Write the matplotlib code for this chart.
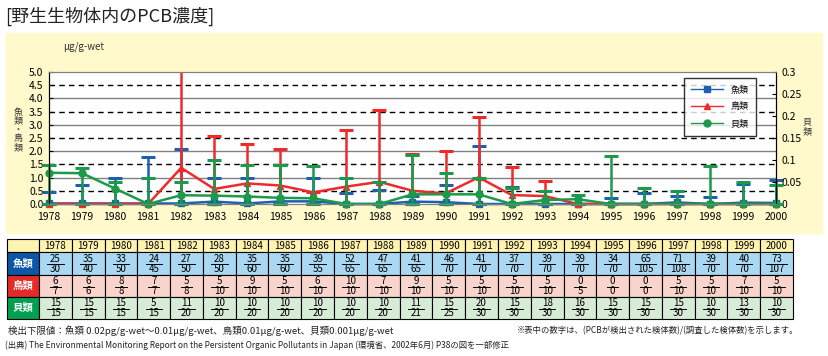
import numpy as np
import matplotlib
matplotlib.use('Agg')
import matplotlib.pyplot as plt
from matplotlib.patches import Rectangle
from matplotlib.lines import Line2D

plt.rcParams['font.family'] = ['Noto Sans CJK JP', 'DejaVu Sans']

# Data
years = list(range(1978, 2001))

# 魚類 / 鳥類 : left axis (μg/g-wet), mean and max
fish_mean = [0.02, 0.02, 0.02, 0.02, 0.02, 0.09, 0.02, 0.10, 0.10, 0.0, 0.0, 0.09,
             0.07, 0.0, 0.0, 0.0, 0.0, 0.0, 0.0, 0.06, 0.0, 0.05, 0.04]
fish_max = [0.47, 0.71, 0.97, 1.77, 2.08, 0.97, 0.97, 1.48, 0.97, 0.40, 0.53, 0.30,
            0.71, 2.19, 0.66, 0.0, 0.0, 0.24, 0.43, 0.32, 0.28, 0.76, 0.91]
bird_mean = [0, 0, 0, 0, 1.37, 0.57, 0.78, 0.70, 0.44, 0.66, 0.84, 0.50,
             0.40, 1.01, 0.34, 0.30, 0, 0, 0, 0, 0, 0, 0]
bird_max = [0, 0, 0, 0, 5.6, 2.58, 2.28, 2.08, 0.44, 2.81, 3.57, 1.90,
            1.99, 3.29, 1.39, 0.89, 0, 0, 0, 0, 0, 0, 0]
# 貝類 : right axis
shell_mean = [0.071, 0.070, 0.035, 0.0, 0.020, 0.019, 0.017, 0.014, 0.013, 0.0, 0.0, 0.022,
              0.022, 0.022, 0.0, 0.009, 0.011, 0.0, 0.0, 0.0, 0.0, 0.0, 0.0]
shell_max = [0.088, 0.081, 0.051, 0.058, 0.051, 0.099, 0.089, 0.089, 0.086, 0.060, 0.051, 0.112,
             0.070, 0.060, 0.037, 0.030, 0.020, 0.109, 0.037, 0.029, 0.086, 0.050, 0.043]

left_ticks = [0.0, 0.5, 1.0, 1.5, 2.0, 2.5, 3.0, 3.5, 4.0, 4.5, 5.0]
right_ticks = [0, 0.05, 0.1, 0.15, 0.2, 0.25, 0.3]
right_labels = ['0', '0.05', '0.1', '0.15', '0.2', '0.25', '0.3']

# Table: detected samples / surveyed samples
fish_detect = [25, 35, 33, 24, 27, 28, 35, 35, 39, 52, 47, 41, 46, 41, 37, 39, 39, 34, 65, 71, 39, 40, 73]
fish_total = [30, 40, 50, 45, 50, 50, 60, 60, 55, 65, 65, 65, 70, 70, 70, 70, 70, 70, 105, 108, 70, 70, 107]
bird_detect = [6, 6, 8, 7, 5, 5, 9, 5, 6, 10, 7, 9, 5, 5, 5, 5, 0, 0, 0, 5, 5, 7, 5]
bird_total = [7, 6, 8, 7, 8, 10, 10, 10, 10, 10, 10, 10, 10, 10, 10, 10, 5, 0, 0, 10, 10, 10, 10]
shell_detect = [15, 15, 15, 5, 11, 10, 10, 10, 10, 10, 10, 11, 15, 20, 15, 18, 16, 15, 15, 15, 10, 13, 10]
shell_total = [15, 15, 15, 15, 20, 20, 20, 20, 20, 20, 20, 21, 25, 30, 30, 30, 30, 30, 30, 30, 30, 30, 30]

series_names = ['魚類', '鳥類', '貝類']

# colours
panel_col = '#fff9cc'
fish_col = '#1f5fb0'
bird_col = '#ee2a2a'
shell_col = '#1a9a4a'

fig = plt.figure(figsize=(8.29, 3.56), dpi=100)

# background axes in pixel coordinates
bg = fig.add_axes([0, 0, 1, 1])
bg.set_xlim(0, 829)
bg.set_ylim(356, 0)
bg.axis('off')
bg.add_patch(Rectangle((6, 33), 816, 200, color=panel_col, zorder=0))

bg.text(5, 16, '[野生生物体内のPCB濃度]', fontsize=13, va='center', ha='left', color='#222222')
bg.text(63, 47, 'μg/g-wet', fontsize=7, va='center', ha='left', color='#333333')
bg.text(18, 130, '魚\n類\n・\n鳥\n類', fontsize=6.5, va='center', ha='center', linespacing=1.0,
        color='#333333')
bg.text(807, 127, '貝\n類', fontsize=6.5, va='center', ha='center', linespacing=1.0, color='#333333')

# main chart
ax = fig.add_axes([49 / 829, 1 - 204 / 356, 727 / 829, 132 / 356])
ax.set_facecolor('white')
ax.set_xlim(1978, 2000)
ax.set_ylim(0, 5)

for t in left_ticks[1:-1]:
    if t % 1 == 0:
        ax.axhline(t, color='#808080', lw=1, zorder=0)
    else:
        ax.axhline(t, color='black', lw=1, ls=(0, (4, 3)), zorder=0)

ax2 = ax.twinx()
ax2.set_ylim(0, 0.3)
ax2.patch.set_visible(False)


def draw_series(axis, mean, mx, color, marker, ms, clip_top=False):
    mean = np.array(mean)
    mx = np.array(mx)
    cont = axis.errorbar(years, mean, yerr=[mean, mx - mean], fmt='-', marker=marker, color=color,
                         ms=ms, lw=1.8, elinewidth=1.8, capsize=5, capthick=2.2)
    line, caps, bars = cont.lines
    line.set_clip_on(False)
    if not clip_top:
        for c in caps:
            c.set_clip_on(False)
        for b in bars:
            b.set_clip_on(False)
    return line


fish_line = draw_series(ax, fish_mean, fish_max, fish_col, 's', 4.5)
bird_line = draw_series(ax, bird_mean, bird_max, bird_col, '^', 4.5, clip_top=True)
shell_line = draw_series(ax2, shell_mean, shell_max, shell_col, 'o', 5)

ax.set_yticks(left_ticks)
ax.set_yticklabels([f'{t:.1f}' for t in left_ticks])
ax2.set_yticks(right_ticks)
ax2.set_yticklabels(right_labels)
ax.set_xticks(years)
ax.set_xticklabels([str(y) for y in years])
ax.tick_params(axis='x', length=0, pad=6, labelsize=7.5)
ax.tick_params(axis='y', direction='in', length=3, labelsize=7.5, pad=4)
ax2.tick_params(axis='y', direction='in', length=3, labelsize=7.5, pad=4)

for a in (ax, ax2):
    a.spines['top'].set_color('#808080')
    a.spines['bottom'].set_color('#808080')
    a.spines['left'].set_color('black')
    a.spines['right'].set_color('black')

handles = [Line2D([], [], color=fish_col, marker='s', ms=4.5, lw=1),
           Line2D([], [], color=bird_col, marker='^', ms=4.5, lw=1),
           Line2D([], [], color=shell_col, marker='o', ms=5, lw=1)]
leg = ax2.legend(handles, series_names, loc='upper left', bbox_to_anchor=(0.873, 0.955),
                 fontsize=6.5, frameon=True, fancybox=False, handlelength=3.6,
                 borderpad=0.8, labelspacing=0.9, borderaxespad=0)
leg.get_frame().set_edgecolor('black')
leg.get_frame().set_linewidth(1)

# table below the chart
x0 = 7
lab_w = 32
col_w = (793 - 39) / len(years)
row_y = [239, 252, 275, 297, 319]
row_bg = ['#fff3b0', '#aad8f2', '#f9d4cc', '#d6ecd6']
lab_bg = [None, '#0b56a6', '#e52a2a', '#00a050']
row_data = [None, (fish_detect, fish_total), (bird_detect, bird_total), (shell_detect, shell_total)]

for r in range(4):
    top = row_y[r]
    h = row_y[r + 1] - top
    bg.add_patch(Rectangle((x0, top), lab_w, h, facecolor=lab_bg[r] or row_bg[0],
                           edgecolor='black', lw=0.8, zorder=2))
    if r > 0:
        bg.text(x0 + lab_w / 2, top + h / 2, series_names[r - 1], color='white', fontsize=7.5,
                fontweight='bold', ha='center', va='center', zorder=3)
    for i, yr in enumerate(years):
        cx = x0 + lab_w + col_w * i
        bg.add_patch(Rectangle((cx, top), col_w, h, facecolor=row_bg[r],
                               edgecolor='black', lw=0.8, zorder=2))
        mid = cx + col_w / 2
        if r == 0:
            bg.text(mid, top + h / 2 + 0.5, str(yr), fontsize=7, ha='center', va='center', zorder=3)
        else:
            num = row_data[r][0][i]
            den = row_data[r][1][i]
            bg.text(mid, top + 6.5, str(num), fontsize=7, ha='center', va='center', zorder=3)
            bg.text(mid, top + 16.5, str(den), fontsize=7, ha='center', va='center', zorder=3)
            half = 3 + 2.6 * max(len(str(num)), len(str(den)))
            bg.plot([mid - half, mid + half], [top + 11.5, top + 11.5], color='black', lw=0.7, zorder=3)

bg.text(8, 331, '検出下限値：魚類 0.02pg/g-wet～0.01μg/g-wet、鳥類0.01μg/g-wet、貝類0.001μg/g-wet',
        fontsize=6.8, ha='left', va='center', color='#222222')
bg.text(798, 331, '※表中の数字は、(PCBが検出された検体数)/(調査した検体数)を示します。',
        fontsize=6, ha='right', va='center', color='#222222')
bg.text(5, 345, '(出典) The Environmental Monitoring Report on the Persistent Organic Pollutants in Japan'
        ' (環境省、2002年6月) P38の図を一部修正', fontsize=6, ha='left', va='center', color='#222222')

plt.savefig('out.png', dpi=100)
